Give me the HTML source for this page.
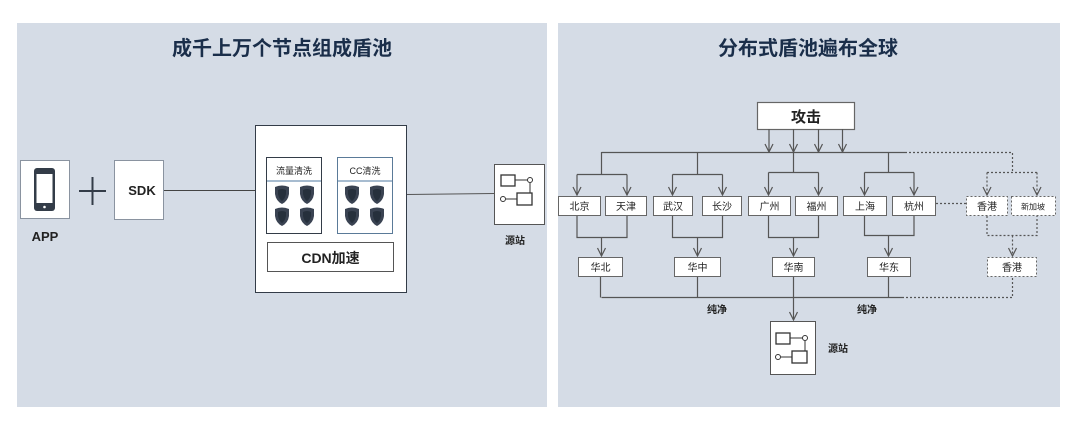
<!DOCTYPE html>
<html><head><meta charset="utf-8"><style>
body{margin:0;background:#fff;width:1080px;height:423px;overflow:hidden}
text{font-family:"Liberation Sans","Noto Sans CJK SC",sans-serif}
</style></head><body>
<svg width="1080" height="423" viewBox="0 0 1080 423" xmlns="http://www.w3.org/2000/svg">
<defs>
<marker id="a" markerWidth="10" markerHeight="10" refX="9" refY="5" orient="auto" markerUnits="userSpaceOnUse">
<path d="M1,1 L9,5 L1,9" fill="none" stroke="#555" stroke-width="1.2"/></marker>
<g id="sh"><path d="M-7,-8 Q0,-11 7,-8 L7,-1 Q6,6 0,9 Q-6,6 -7,-1 Z" fill="#3a4352"/><path d="M-4,-5 Q0,-7 4,-5 L4,-1 Q3,4 0,6 Q-3,4 -4,-1Z" fill="#26303c"/></g>
<g id="src"><rect x="0" y="0" width="14" height="11" fill="#fff" stroke="#333" stroke-width="1.3"/><line x1="14" y1="5" x2="27" y2="5" stroke="#333"/><circle cx="29" cy="5" r="2.5" fill="#fff" stroke="#333"/><line x1="29" y1="8" x2="29" y2="24" stroke="#333"/><circle cx="2" cy="24" r="2.5" fill="#fff" stroke="#333"/><line x1="5" y1="24" x2="16" y2="24" stroke="#333"/><rect x="16" y="18" width="15" height="12" fill="#fff" stroke="#333" stroke-width="1.3"/></g>
</defs>
<rect x="17" y="23" width="530" height="384" fill="#d5dce6"/>
<rect x="558" y="23" width="502" height="384" fill="#d5dce6"/>
<text x="282" y="55" font-size="20" font-weight="bold" fill="#1a2e4a" text-anchor="middle">成千上万个节点组成盾池</text>
<text x="808" y="55" font-size="20" font-weight="bold" fill="#1a2e4a" text-anchor="middle">分布式盾池遍布全球</text>
<!-- left -->
<rect x="20.5" y="160.5" width="49" height="58" fill="#fff" stroke="#8a93a0"/>
<rect x="34" y="168" width="21" height="43" rx="3" fill="#333c48"/><rect x="36.5" y="174" width="16" height="29" fill="#fff"/><circle cx="44.5" cy="207" r="1.3" fill="#fff"/>
<text x="45" y="241" font-size="13" font-weight="bold" fill="#222" text-anchor="middle">APP</text>
<line x1="79" y1="191" x2="106" y2="191" stroke="#333c48" stroke-width="2"/><line x1="92.5" y1="177" x2="92.5" y2="205" stroke="#333c48" stroke-width="2"/>
<rect x="114.5" y="160.5" width="49" height="59" fill="#fff" stroke="#8a93a0"/>
<text x="142" y="195" font-size="13" font-weight="bold" fill="#222" text-anchor="middle">SDK</text>
<line x1="164" y1="190.5" x2="255" y2="190.5" stroke="#444"/>
<rect x="255.5" y="125.5" width="151" height="167" fill="#fff" stroke="#333c48"/>
<rect x="266.5" y="157.5" width="55" height="76" fill="#fff" stroke="#333c48"/>
<line x1="267" y1="181" x2="321" y2="181" stroke="#8aa6c0" stroke-width="1.5"/>
<text x="294" y="174" font-size="9" fill="#222" text-anchor="middle">流量清洗</text>
<rect x="337.5" y="157.5" width="55" height="76" fill="#fff" stroke="#5a7a98"/>
<line x1="338" y1="181" x2="392" y2="181" stroke="#8aa6c0" stroke-width="1.5"/>
<text x="365" y="174" font-size="9" fill="#222" text-anchor="middle">CC清洗</text>
<use href="#sh" x="282" y="195"/><use href="#sh" x="307" y="195"/><use href="#sh" x="282" y="217"/><use href="#sh" x="307" y="217"/>
<use href="#sh" x="352" y="195"/><use href="#sh" x="377" y="195"/><use href="#sh" x="352" y="217"/><use href="#sh" x="377" y="217"/>
<rect x="267.5" y="242.5" width="126" height="29" fill="#fff" stroke="#555"/>
<text x="330.5" y="263" font-size="14" font-weight="bold" fill="#222" text-anchor="middle">CDN加速</text>
<line x1="407" y1="194.5" x2="494" y2="193.5" stroke="#555"/>
<rect x="494.5" y="164.5" width="50" height="60" fill="#fff" stroke="#555"/>
<use href="#src" x="501" y="175"/>
<text x="515" y="244" font-size="10" font-weight="bold" fill="#222" text-anchor="middle">源站</text>
<!-- right -->
<g stroke="#555" stroke-width="1.2" fill="none">
<rect x="757.5" y="102.5" width="97" height="27" fill="#fff" stroke="#666"/>
<line x1="769" y1="129" x2="769" y2="152" marker-end="url(#a)"/>
<line x1="793.5" y1="129" x2="793.5" y2="152" marker-end="url(#a)"/>
<line x1="818.5" y1="129" x2="818.5" y2="152" marker-end="url(#a)"/>
<line x1="842.5" y1="129" x2="842.5" y2="152" marker-end="url(#a)"/>
<line x1="601.5" y1="152.5" x2="905" y2="152.5"/>
<path d="M601.5,152 V174.5 M577,174.5 H627 M697.5,152 V174.5 M672.5,174.5 H722.5 M793.5,152 V172.5 M768.5,172.5 H818.5 M888.5,152 V172.5 M864.5,172.5 H914" />
<line x1="577" y1="174.5" x2="577" y2="195" marker-end="url(#a)"/>
<line x1="627" y1="174.5" x2="627" y2="195" marker-end="url(#a)"/>
<line x1="672.5" y1="174.5" x2="672.5" y2="195" marker-end="url(#a)"/>
<line x1="722.5" y1="174.5" x2="722.5" y2="195" marker-end="url(#a)"/>
<line x1="768.5" y1="172.5" x2="768.5" y2="195" marker-end="url(#a)"/>
<line x1="818.5" y1="172.5" x2="818.5" y2="195" marker-end="url(#a)"/>
<line x1="864.5" y1="172.5" x2="864.5" y2="195" marker-end="url(#a)"/>
<line x1="914" y1="172.5" x2="914" y2="195" marker-end="url(#a)"/>
<g stroke-dasharray="2,2">
<path d="M905,152.5 H1012.5 V172.5 M987,172.5 H1037 M936,203.5 H966"/>
<line x1="987" y1="172.5" x2="987" y2="195" marker-end="url(#a)"/>
<line x1="1037" y1="172.5" x2="1037" y2="195" marker-end="url(#a)"/>
</g>
</g>
<text x="806" y="122" font-size="15" font-weight="bold" fill="#222" text-anchor="middle">攻击</text>
<g font-size="10" fill="#222" text-anchor="middle">
<g fill="#fff" stroke="#666">
<rect x="558.5" y="196.5" width="42" height="19"/><rect x="605.5" y="196.5" width="41" height="19"/>
<rect x="653.5" y="196.5" width="39" height="19"/><rect x="702.5" y="196.5" width="39" height="19"/>
<rect x="748.5" y="196.5" width="42" height="19"/><rect x="795.5" y="196.5" width="42" height="19"/>
<rect x="843.5" y="196.5" width="43" height="19"/><rect x="892.5" y="196.5" width="43" height="19"/>
<rect x="966.5" y="196.5" width="41" height="19" stroke-dasharray="2,2"/><rect x="1011.5" y="196.5" width="44" height="19" stroke-dasharray="2,2"/>
</g>
<text x="579.5" y="210">北京</text><text x="626" y="210">天津</text><text x="673" y="210">武汉</text><text x="722" y="210">长沙</text>
<text x="769.5" y="210">广州</text><text x="816.5" y="210">福州</text><text x="865" y="210">上海</text><text x="914" y="210">杭州</text>
<text x="987" y="210">香港</text><text x="1033" y="209.5" font-size="8">新加坡</text>
</g>
<g stroke="#555" stroke-width="1.2" fill="none">
<path d="M577,216 V237.5 H627 V216 M672.5,216 V237.5 H722.5 V216 M768.5,216 V237.5 H818.5 V216 M864.5,216 V235.5 H914 V216"/>
<line x1="601.5" y1="237.5" x2="601.5" y2="256" marker-end="url(#a)"/>
<line x1="697.5" y1="237.5" x2="697.5" y2="256" marker-end="url(#a)"/>
<line x1="793.5" y1="237.5" x2="793.5" y2="256" marker-end="url(#a)"/>
<line x1="888.5" y1="235.5" x2="888.5" y2="256" marker-end="url(#a)"/>
<path d="M987,216 V235.5 H1037 V216" stroke-dasharray="2,2" />
<line x1="1012.5" y1="235.5" x2="1012.5" y2="256" stroke-dasharray="2,2" marker-end="url(#a)"/>
<path d="M600.5,277 V297.5 M697.5,277 V297.5 M793.5,277 V297.5 M888.5,277 V297.5 M601.5,297.5 H902"/>
<path d="M902,297.5 H1012.5 V277" stroke-dasharray="2,2"/>
<line x1="793.5" y1="297.5" x2="793.5" y2="320" marker-end="url(#a)"/>
</g>
<g font-size="10" fill="#222" text-anchor="middle">
<g fill="#fff" stroke="#666">
<rect x="578.5" y="257.5" width="44" height="19"/><rect x="674.5" y="257.5" width="46" height="19"/>
<rect x="772.5" y="257.5" width="42" height="19"/><rect x="867.5" y="257.5" width="43" height="19"/>
<rect x="987.5" y="257.5" width="49" height="19" stroke-dasharray="2,2"/>
</g>
<text x="600.5" y="271">华北</text><text x="697.5" y="271">华中</text><text x="793.5" y="271">华南</text><text x="889" y="271">华东</text><text x="1012" y="271">香港</text>
<text x="717" y="313" font-weight="bold">纯净</text><text x="867" y="313" font-weight="bold">纯净</text>
<text x="838" y="352" font-weight="bold">源站</text>
</g>
<rect x="770.5" y="321.5" width="45" height="53" fill="#fff" stroke="#555"/>
<use href="#src" x="776" y="333"/>
</svg>
</body></html>
